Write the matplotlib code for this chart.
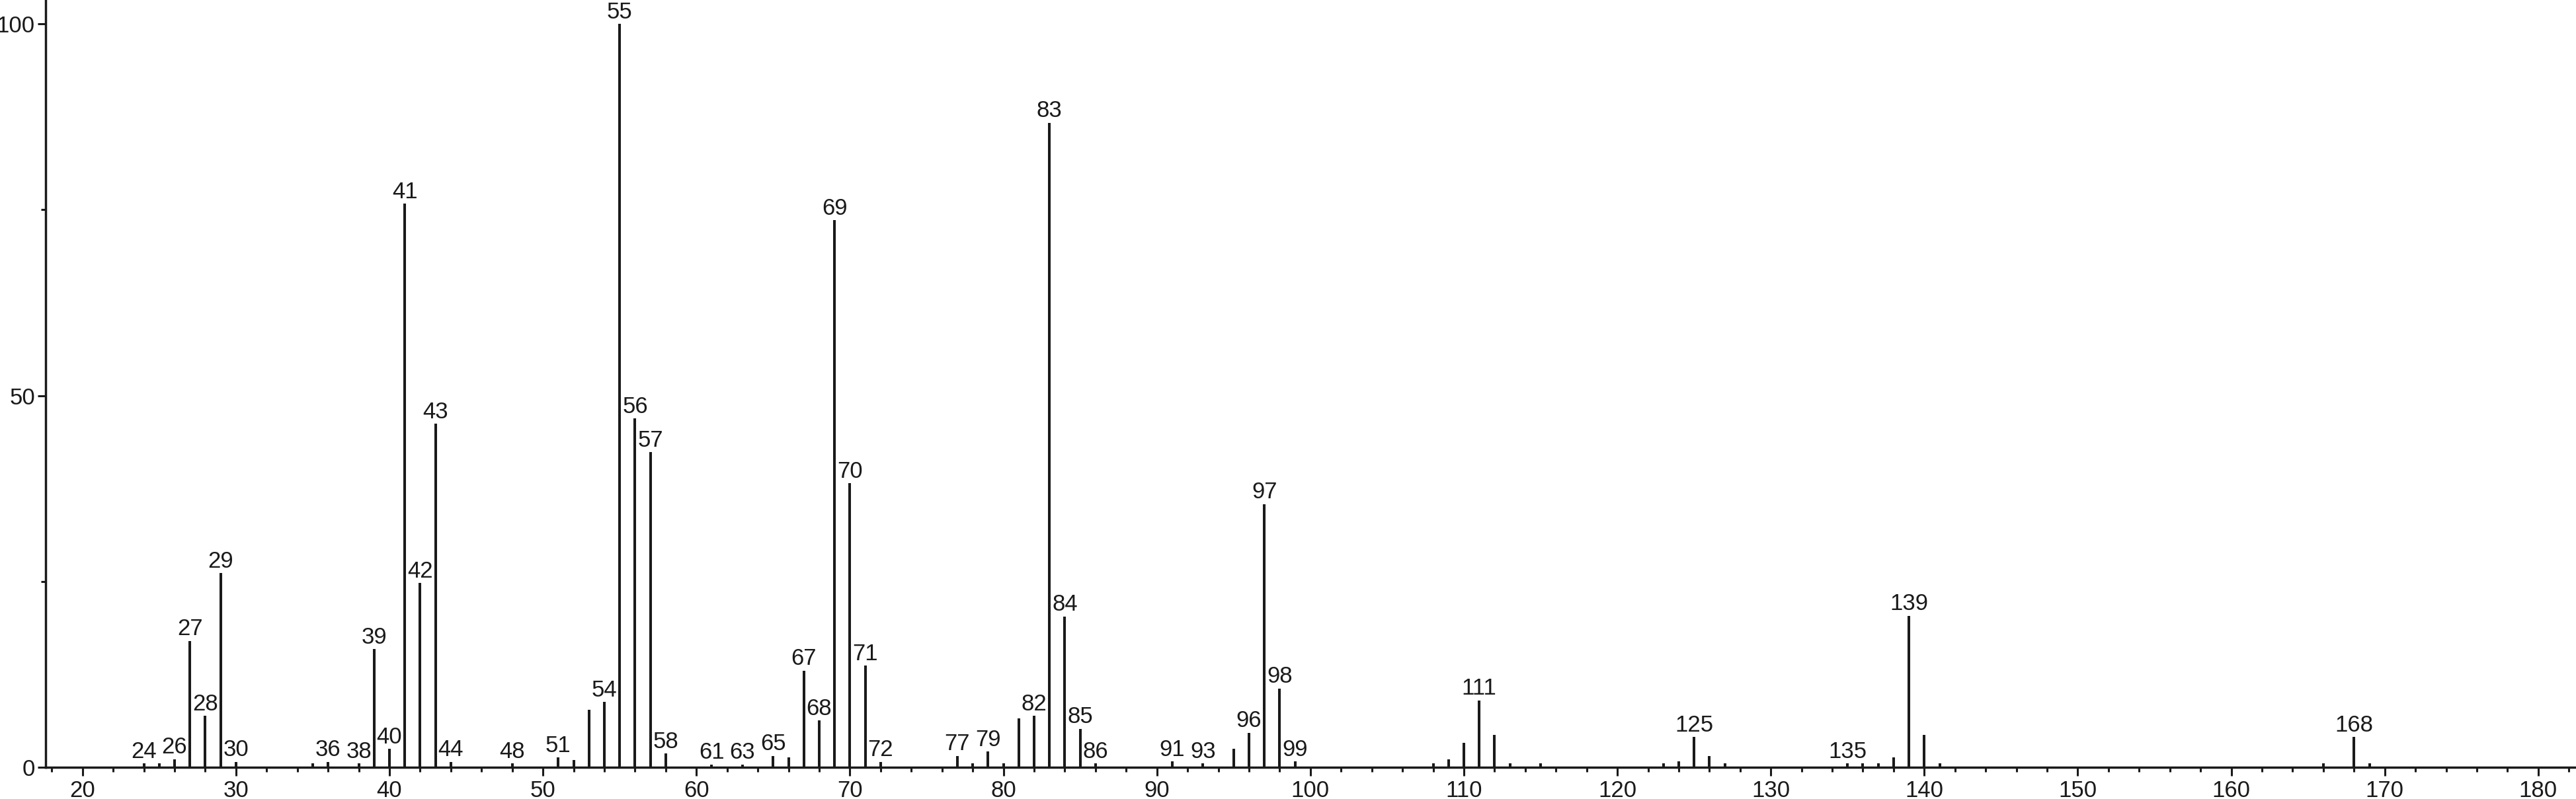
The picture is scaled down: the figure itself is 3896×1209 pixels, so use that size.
import matplotlib
matplotlib.use("Agg")
import matplotlib.pyplot as plt
from matplotlib.ticker import MultipleLocator

plt.rcParams['font.family'] = ['Liberation Sans', 'DejaVu Sans']

# m/z values and relative intensities
mz = [24, 25, 26, 27, 28, 29, 30, 35, 36, 38, 39, 40, 41, 42, 43, 44, 48,
      51, 52, 53, 54, 55, 56, 57, 58, 61, 63, 65, 66, 67, 68, 69, 70, 71, 72,
      77, 78, 79, 80, 81, 82, 83, 84, 85, 86, 91, 93, 95, 96, 97, 98, 99,
      108, 109, 110, 111, 112, 113, 115, 123, 124, 125, 126, 127,
      135, 136, 137, 138, 139, 140, 141, 166, 168, 169]
intensity = [0.5, 0.5, 1.1, 17.0, 6.9, 26.1, 0.75, 0.5, 0.75, 0.5, 15.9, 2.5, 75.8, 24.8, 46.2, 0.75, 0.5,
             1.3, 1.0, 7.7, 8.8, 100.0, 46.9, 42.4, 1.85, 0.4, 0.4, 1.55, 1.3, 13.0, 6.3, 73.6, 38.2, 13.7, 0.75,
             1.55, 0.5, 2.1, 0.5, 6.6, 6.9, 86.7, 20.3, 5.2, 0.5, 0.8, 0.5, 2.5, 4.65, 35.4, 10.6, 0.8,
             0.5, 1.1, 3.3, 9.0, 4.4, 0.5, 0.5, 0.5, 0.8, 4.05, 1.55, 0.5,
             0.5, 0.5, 0.5, 1.35, 20.4, 4.35, 0.5, 0.5, 4.05, 0.5]
labeled = [24, 26, 27, 28, 29, 30, 36, 38, 39, 40, 41, 42, 43, 44, 48, 51, 54, 55, 56, 57, 58,
           61, 63, 65, 67, 68, 69, 70, 71, 72, 77, 79, 82, 83, 84, 85, 86, 91, 93, 96, 97, 98, 99,
           111, 125, 135, 139, 168]
x_major = [20, 30, 40, 50, 60, 70, 80, 90, 100, 110, 120, 130, 140, 150, 160, 170, 180]
y_major = [0, 50, 100]

ink = '#1a1a1a'
fig = plt.figure(figsize=(38.96, 12.09), dpi=100)
ax = fig.add_axes([69 / 3896, 48 / 1209, 1 - 69 / 3896, 1 - 48 / 1209])

ax.vlines(mz, 0, intensity, colors=ink, linewidth=2.9)
lookup = dict(zip(mz, intensity))
for m in labeled:
    ax.annotate(str(m), (m, lookup[m]), xytext=(0, 6), textcoords='offset points',
                ha='center', va='baseline', fontsize=25, color=ink)

ax.set_xlim(17.6, 182.46)
ax.set_ylim(0, 103.2)
ax.set_xticks(x_major)
ax.set_yticks(y_major)
ax.xaxis.set_minor_locator(MultipleLocator(2))
ax.yaxis.set_minor_locator(MultipleLocator(25))

for s in ['top', 'right']:
    ax.spines[s].set_visible(False)
for s in ['left', 'bottom']:
    ax.spines[s].set_linewidth(2.5)
    ax.spines[s].set_color(ink)

ax.tick_params(axis='x', which='major', length=9.4, width=2.2, pad=4, labelsize=25, colors=ink)
ax.tick_params(axis='x', which='minor', length=5, width=2.2, colors=ink)
ax.tick_params(axis='y', which='major', length=8.6, width=2.2, pad=3, labelsize=25, colors=ink)
ax.tick_params(axis='y', which='minor', length=5, width=2.2, colors=ink)

fig.savefig('out.png', dpi=100, facecolor='white')
